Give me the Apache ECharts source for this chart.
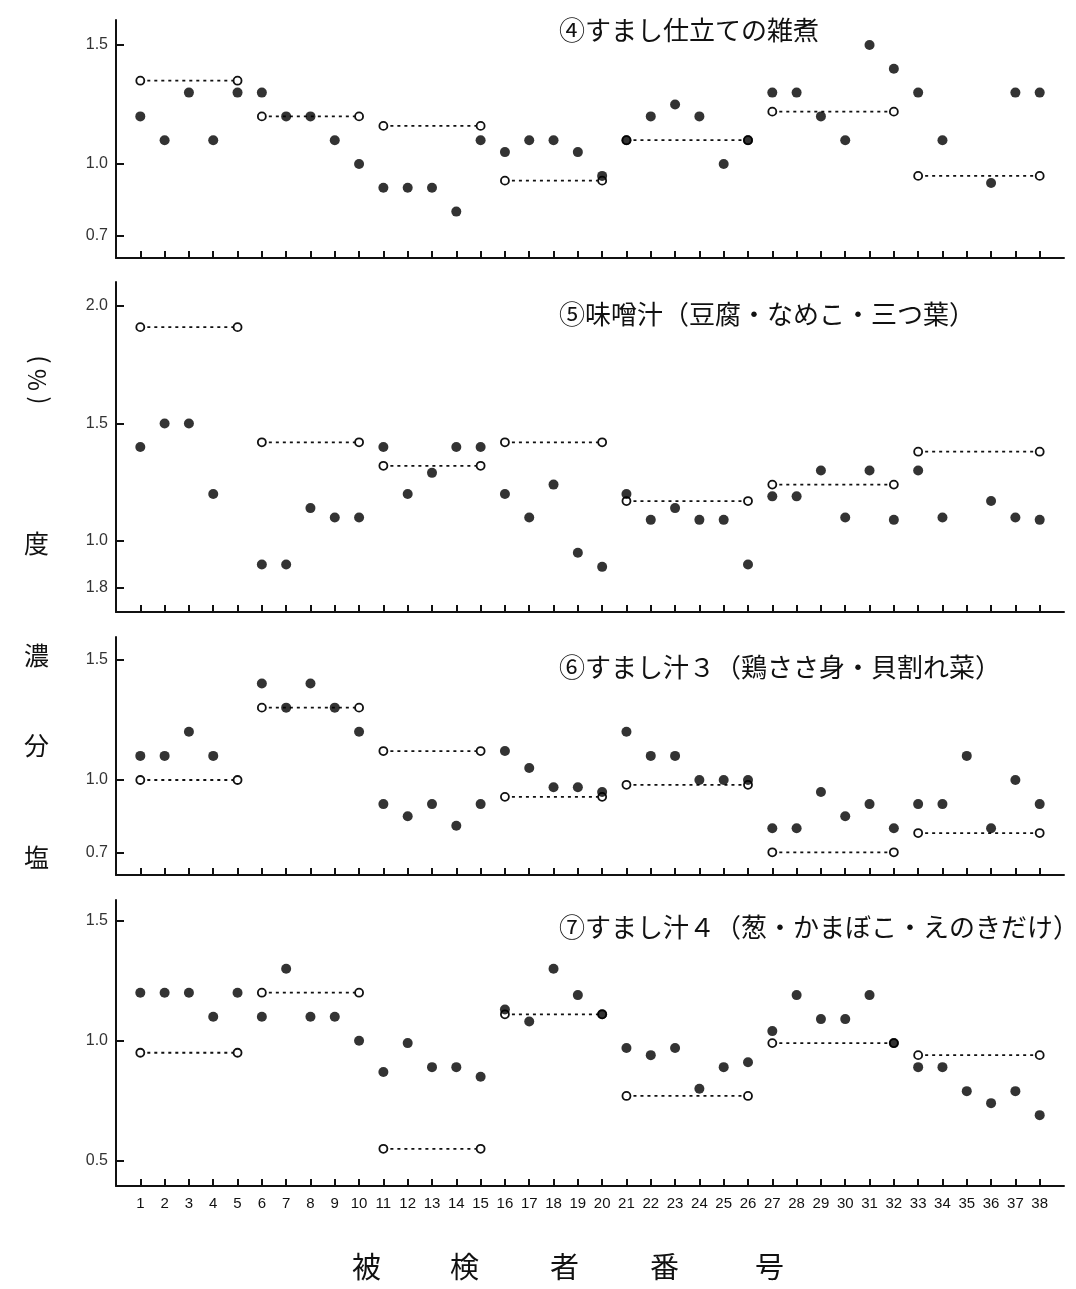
<!DOCTYPE html>
<html>
<head>
<meta charset="utf-8">
<style>
    html, body { margin: 0; padding: 0; background: #fff; }
    #main { width: 1076px; height: 1289px; }
</style>
<script src="https://cdn.jsdelivr.net/npm/echarts@6/dist/echarts.min.js"></script>
</head>
<body>
<div id="main"></div>
<script>
// 被検者番号
var subjects = [];
for (var i = 1; i <= 38; i++) subjects.push(i);
// グループ (○ は同じグループの始めと終わり)
var groupStart = [1, 6, 11, 16, 21, 27, 33];
var groupEnd   = [5, 10, 15, 20, 26, 32, 38];

var titles = [
    '④すまし仕立ての雑煮',
    '⑤味噌汁（豆腐・なめこ・三つ葉）',
    '⑥すまし汁３（鶏ささ身・貝割れ菜）',
    '⑦すまし汁４（葱・かまぼこ・えのきだけ）'
];

// ● 各被検者
var vals4 = [1.2,1.1,1.3,1.1,1.3, 1.3,1.2,1.2,1.1,1.0, 0.9,0.9,0.9,0.8,1.1, 1.05,1.1,1.1,1.05,0.95,
             1.1,1.2,1.25,1.2,1.0,1.1, 1.3,1.3,1.2,1.1,1.5,1.4, 1.3,1.1,null,0.92,1.3,1.3];
var vals5 = [1.4,1.5,1.5,1.2,null, 0.9,0.9,1.14,1.1,1.1, 1.4,1.2,1.29,1.4,1.4, 1.2,1.1,1.24,0.95,0.89,
             1.2,1.09,1.14,1.09,1.09,0.9, 1.19,1.19,1.3,1.1,1.3,1.09, 1.3,1.1,null,1.17,1.1,1.09];
var vals6 = [1.1,1.1,1.2,1.1,null, 1.4,1.3,1.4,1.3,1.2, 0.9,0.85,0.9,0.81,0.9, 1.12,1.05,0.97,0.97,0.95,
             1.2,1.1,1.1,1.0,1.0,1.0, 0.8,0.8,0.95,0.85,0.9,0.8, 0.9,0.9,1.1,0.8,1.0,0.9];
var vals7 = [1.2,1.2,1.2,1.1,1.2, 1.1,1.3,1.1,1.1,1.0, 0.87,0.99,0.89,0.89,0.85, 1.13,1.08,1.3,1.19,1.11,
             0.97,0.94,0.97,0.8,0.89,0.91, 1.04,1.19,1.09,1.09,1.19,0.99, 0.89,0.89,0.79,0.74,0.79,0.69];

// ○ グループの値
var group4 = [1.35, 1.2, 1.16, 0.93, 1.1, 1.22, 0.95];
var group5 = [1.91, 1.42, 1.32, 1.42, 1.17, 1.24, 1.38];
var group6 = [1.0, 1.3, 1.12, 0.93, 0.98, 0.7, 0.78];
var group7 = [0.95, 1.2, 0.55, 1.11, 0.77, 0.99, 0.94];

// y軸の目盛
var yTicks4 = [0.7, 1.0, 1.5];
var yTicks5 = [0.8, 1.0, 1.5, 2.0];
var yTickText5 = ['1.8', '1.0', '1.5', '2.0'];
var yTicks6 = [0.7, 1.0, 1.5];
var yTicks7 = [0.5, 1.0, 1.5];

var panels = [
    {vals: vals4, group: group4, ticks: yTicks4, top: 20,  height: 238, min: 0.605, max: 1.605, titleTop: 12},
    {vals: vals5, group: group5, ticks: yTicks5, top: 282, height: 330, min: 0.698, max: 2.102, titleTop: 296},
    {vals: vals6, group: group6, ticks: yTicks6, top: 637, height: 238, min: 0.606, max: 1.593, titleTop: 649},
    {vals: vals7, group: group7, ticks: yTicks7, top: 900, height: 286, min: 0.395, max: 1.586, titleTop: 909}
];

var ink = '#111';
var grid = [], xAxis = [], yAxis = [], series = [], title = [];

panels.forEach(function (p, k) {
    grid.push({left: 116, width: 948, top: p.top, height: p.height});
    title.push({
        text: titles[k], left: 554, top: p.titleTop,
        textStyle: {fontSize: 26, fontWeight: 'normal', color: ink, fontFamily: 'Noto Sans CJK JP'}
    });
    xAxis.push({
        type: 'value', gridIndex: k, min: 0, max: 39,
        axisLine: {lineStyle: {color: ink, width: 2}},
        axisTick: {show: true, inside: true, length: 7, customValues: subjects, lineStyle: {color: ink, width: 2}},
        axisLabel: {
            show: k === 3, customValues: subjects, margin: 10,
            fontSize: 15, color: ink, fontFamily: 'Liberation Sans'
        },
        splitLine: {show: false}
    });
    yAxis.push({
        type: 'value', gridIndex: k, min: p.min, max: p.max,
        axisLine: {show: true, onZero: false, lineStyle: {color: ink, width: 2}},
        axisTick: {show: true, inside: true, length: 8, customValues: p.ticks, lineStyle: {color: ink, width: 2}},
        axisLabel: {
            customValues: p.ticks, margin: 8, fontSize: 16, color: '#333', fontFamily: 'Liberation Sans',
            formatter: function (v) {
                if (k === 1) {
                    var idx = yTicks5.indexOf(Math.round(v * 10) / 10);
                    if (idx >= 0) return yTickText5[idx];
                }
                return v.toFixed(1);
            }
        },
        splitLine: {show: false}
    });

    // ○ と点線
    p.group.forEach(function (g, j) {
        series.push({
            type: 'line', xAxisIndex: k, yAxisIndex: k, z: 2,
            data: [[groupStart[j], g], [groupEnd[j], g]],
            symbol: 'circle', symbolSize: 8, showSymbol: true,
            lineStyle: {color: ink, width: 1.8, type: [3, 4]},
            itemStyle: {color: '#fff', borderColor: ink, borderWidth: 1.8},
            silent: true, animation: false
        });
    });

    // ●
    var pts = [];
    subjects.forEach(function (s, i) {
        if (p.vals[i] != null) pts.push([s, p.vals[i]]);
    });
    series.push({
        type: 'scatter', xAxisIndex: k, yAxisIndex: k, z: 5,
        data: pts, symbol: 'circle', symbolSize: 10,
        itemStyle: {color: '#000'}, silent: true, animation: false
    });
});

var cjk = 'Noto Sans CJK JP';
var graphic = [
    // 縦軸タイトル
    {type: 'text', left: 24, top: 845, style: {text: '塩', font: '25px "' + cjk + '"', fill: ink}},
    {type: 'text', left: 24, top: 733, style: {text: '分', font: '25px "' + cjk + '"', fill: ink}},
    {type: 'text', left: 24, top: 643, style: {text: '濃', font: '25px "' + cjk + '"', fill: ink}},
    {type: 'text', left: 24, top: 531, style: {text: '度', font: '25px "' + cjk + '"', fill: ink}},
    {type: 'text', x: 37, y: 380, rotation: Math.PI / 2,
     style: {text: '( % )', font: '24px "' + cjk + '"', fill: ink, align: 'center', verticalAlign: 'middle'}},
    // 横軸タイトル
    {type: 'text', left: 352, top: 1252, style: {text: '被', font: '29px "' + cjk + '"', fill: ink}},
    {type: 'text', left: 450, top: 1252, style: {text: '検', font: '29px "' + cjk + '"', fill: ink}},
    {type: 'text', left: 550, top: 1252, style: {text: '者', font: '29px "' + cjk + '"', fill: ink}},
    {type: 'text', left: 650, top: 1252, style: {text: '番', font: '29px "' + cjk + '"', fill: ink}},
    {type: 'text', left: 755, top: 1252, style: {text: '号', font: '29px "' + cjk + '"', fill: ink}}
];

var myChart = echarts.init(document.getElementById('main'));
myChart.setOption({
    backgroundColor: '#fff',
    animation: false,
    title: title,
    grid: grid,
    xAxis: xAxis,
    yAxis: yAxis,
    series: series,
    graphic: graphic
});
</script>
</body>
</html>
